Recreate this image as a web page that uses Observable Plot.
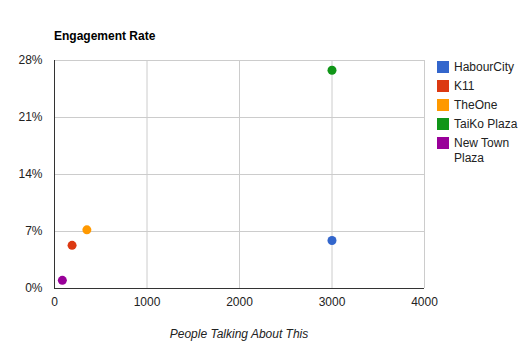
<!DOCTYPE html>
<html>
<head>
<meta charset="utf-8">
<script src="https://cdn.jsdelivr.net/npm/d3@7"></script>
<script src="https://cdn.jsdelivr.net/npm/@observablehq/plot@0.6"></script>
<style>
  body { margin: 0; background: #fff; font-family: Arial, "Liberation Sans", sans-serif; }
  #wrap { position: relative; width: 529px; height: 355px; }
  #title { position: absolute; left: 54px; top: 29px; font-weight: bold; font-size: 12px; color: #000; }
  #xlabel { position: absolute; left: 54px; width: 370px; top: 327px; text-align: center; font-style: italic; font-size: 12px; color: #222; }
  #legend { position: absolute; left: 437px; top: 61px; font-size: 12px; color: #222; }
  .li { display: flex; align-items: flex-start; margin-bottom: 5.5px; }
  .sw { width: 12px; height: 12px; flex: none; margin-right: 5px; }
  .lt { line-height: 15px; margin-top: -1.5px; width: 70px; }
</style>
</head>
<body>
<div id="wrap">
  <div id="chart"></div>
  <div id="title">Engagement Rate</div>
  <div id="xlabel">People Talking About This</div>
  <div id="legend"></div>
</div>
<script>
const series = ["HabourCity", "K11", "TheOne", "TaiKo Plaza", "New Town Plaza"];
const talking = [3000, 190, 350, 3000, 85];
const engagement = [5.9, 5.3, 7.2, 26.8, 1.0];
const colors = ["#3366cc", "#dc3912", "#ff9900", "#109618", "#990099"];
const xTicks = [0, 1000, 2000, 3000, 4000];
const yTicks = [0, 7, 14, 21, 28];

const data = series.map((s, i) => ({series: s, x: talking[i], y: engagement[i]}));

const chart = Plot.plot({
  width: 529,
  height: 355,
  marginLeft: 54,
  marginRight: 105,
  marginTop: 60,
  marginBottom: 67,
  style: {fontFamily: "Arial, 'Liberation Sans', sans-serif", fontSize: "12px", color: "#222", background: "#fff"},
  x: {domain: [0, 4000]},
  y: {domain: [0, 28]},
  color: {domain: series, range: colors},
  marks: [
    Plot.gridX(xTicks.slice(1), {stroke: "#cccccc", strokeOpacity: 1}),
    Plot.gridY(yTicks.slice(1), {stroke: "#cccccc", strokeOpacity: 1}),
    Plot.ruleX([0], {stroke: "#333"}),
    Plot.ruleY([0], {stroke: "#333"}),
    Plot.axisX(xTicks, {tickSize: 0, tickPadding: 9, label: null, tickFormat: d => String(d), fill: "#222"}),
    Plot.axisY(yTicks, {tickSize: 0, tickPadding: 12, label: null, tickFormat: d => d + "%", fill: "#222"}),
    Plot.dot(data, {x: "x", y: "y", fill: "series", r: 4.5, stroke: null})
  ]
});
document.getElementById("chart").appendChild(chart);

const legend = document.getElementById("legend");
series.forEach((s, i) => {
  const li = document.createElement("div");
  li.className = "li";
  const sw = document.createElement("div");
  sw.className = "sw";
  sw.style.background = colors[i];
  const lt = document.createElement("div");
  lt.className = "lt";
  lt.textContent = s;
  li.appendChild(sw);
  li.appendChild(lt);
  legend.appendChild(li);
});
</script>
</body>
</html>
